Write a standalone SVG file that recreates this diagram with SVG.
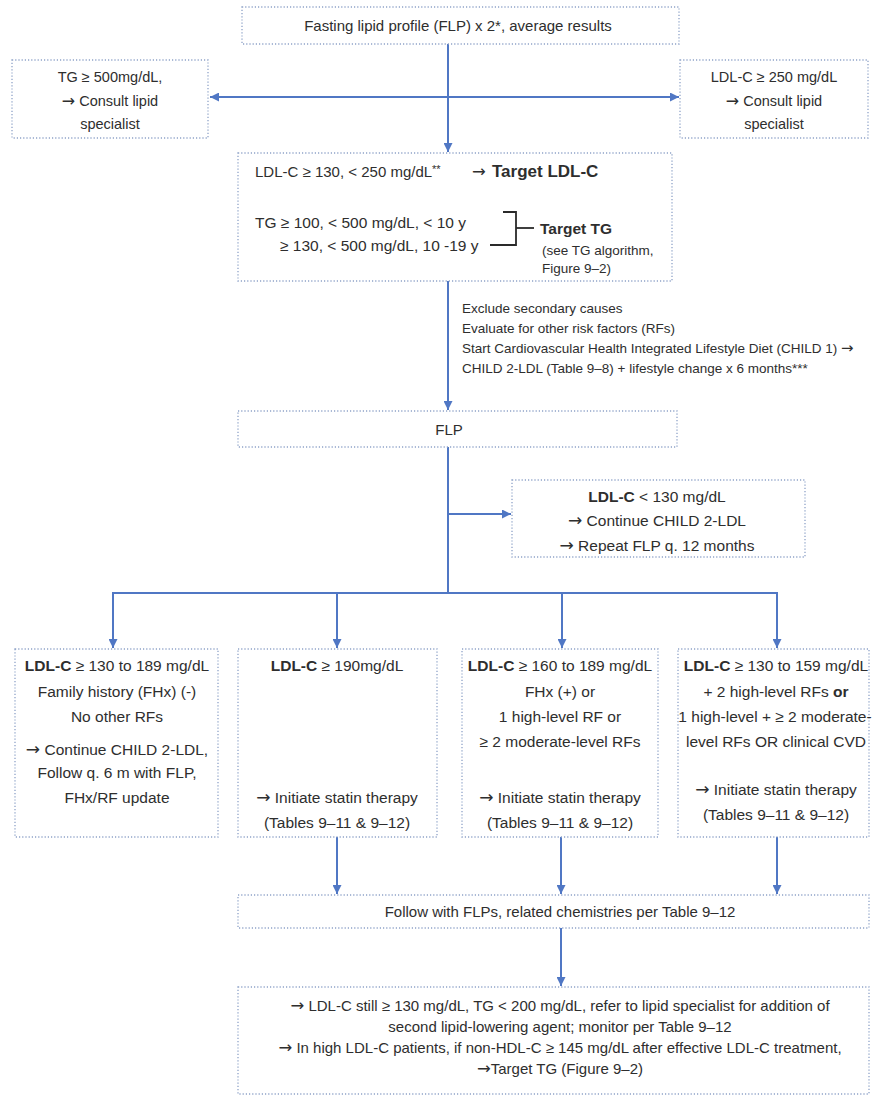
<svg xmlns="http://www.w3.org/2000/svg" width="873" height="1099" viewBox="0 0 873 1099">
<defs>
<marker id="ah" viewBox="0 0 10 10" refX="10" refY="5" markerWidth="9" markerHeight="9" markerUnits="userSpaceOnUse" orient="auto-start-reverse">
<path d="M0,0 L10,5 L0,10 z" fill="#5077c4"/>
</marker>
<style>
.box{fill:#ffffff;stroke:#8ea2c8;stroke-width:1.3;stroke-dasharray:1.2 2}
.ln{fill:none;stroke:#5077c4;stroke-width:2}
.br{fill:none;stroke:#2a2a2a;stroke-width:1.8}
text{font-family:"Liberation Sans",Arial,sans-serif;fill:#2e2e2e;font-size:15.5px}
.c{text-anchor:middle}
.b{font-weight:bold}
.ar{font-family:"DejaVu Sans",sans-serif;font-size:1.1em}
.s145{font-size:14.5px}
.s15{font-size:15px}
.s135{font-size:13.5px}
</style>
</defs>
<rect width="873" height="1099" fill="#ffffff"/>

<g id="connectors">
<line class="ln" x1="448" y1="44" x2="448" y2="152" marker-end="url(#ah)"/>
<line class="ln" x1="210" y1="97" x2="679" y2="97" marker-start="url(#ah)" marker-end="url(#ah)"/>
<line class="ln" x1="448" y1="281" x2="448" y2="410" marker-end="url(#ah)"/>
<line class="ln" x1="448" y1="447" x2="448" y2="593"/>
<line class="ln" x1="448" y1="514" x2="511" y2="514" marker-end="url(#ah)"/>
<polyline class="ln" points="113,648 113,593 777,593 777,648" marker-end="url(#ah)"/>
<line class="ln" x1="113" y1="600" x2="113" y2="648" marker-end="url(#ah)"/>
<line class="ln" x1="337" y1="593" x2="337" y2="648" marker-end="url(#ah)"/>
<line class="ln" x1="562" y1="593" x2="562" y2="648" marker-end="url(#ah)"/>
<line class="ln" x1="337" y1="837" x2="337" y2="894" marker-end="url(#ah)"/>
<line class="ln" x1="561" y1="837" x2="561" y2="894" marker-end="url(#ah)"/>
<line class="ln" x1="777" y1="837" x2="777" y2="894" marker-end="url(#ah)"/>
<line class="ln" x1="561" y1="928" x2="561" y2="986" marker-end="url(#ah)"/>
</g>

<g id="n-start">
<rect class="box" x="242" y="7" width="437" height="37"/>
<text class="c s15" x="458" y="31">Fasting lipid profile (FLP) x 2*, average results</text>
</g>

<g id="n-tg500">
<rect class="box" x="12" y="60" width="196" height="78"/>
<text class="c s145" x="110" y="82">TG ≥ 500mg/dL,</text>
<text class="c s145" x="110" y="106"><tspan class="ar">→</tspan> Consult lipid</text>
<text class="c s145" x="110" y="129">specialist</text>
</g>

<g id="n-ldl250">
<rect class="box" x="680" y="60" width="188" height="78"/>
<text class="c s145" x="774" y="82">LDL-C ≥ 250 mg/dL</text>
<text class="c s145" x="774" y="106"><tspan class="ar">→</tspan> Consult lipid</text>
<text class="c s145" x="774" y="129">specialist</text>
</g>

<g id="n-target">
<rect class="box" x="238" y="153" width="434" height="128"/>
<text class="s15" x="255" y="177">LDL-C ≥ 130, &lt; 250 mg/dL<tspan font-size="11" dy="-4">**</tspan><tspan dy="4" x="472" class="ar">→</tspan><tspan x="492" class="b" font-size="17">Target LDL-C</tspan></text>
<text font-size="16" x="255" y="228">TG ≥ 100, &lt; 500 mg/dL, &lt; 10 y</text>
<text font-size="16" x="280" y="251">≥ 130, &lt; 500 mg/dL, 10 -19 y</text>
<polyline class="br" points="503,212 516,212 516,245 490,245"/>
<line class="br" x1="516" y1="228" x2="534" y2="228"/>
<text class="b" x="540" y="234" font-size="18">Target TG</text>
<text class="s135" x="542" y="255">(see TG algorithm,</text>
<text class="s135" x="542" y="273">Figure 9–2)</text>
</g>

<g id="n-steps">
<text class="s135" x="462" y="313">Exclude secondary causes</text>
<text class="s135" x="462" y="333">Evaluate for other risk factors (RFs)</text>
<text class="s135" x="462" y="353">Start Cardiovascular Health Integrated Lifestyle Diet (CHILD 1) <tspan class="ar">→</tspan></text>
<text class="s135" x="462" y="373">CHILD 2-LDL (Table 9–8) + lifestyle change x 6 months***</text>
</g>

<g id="n-flp">
<rect class="box" x="238" y="411" width="439" height="36"/>
<text class="c s15" x="449" y="435">FLP</text>
</g>

<g id="n-ldl130">
<rect class="box" x="512" y="480" width="293" height="77"/>
<text class="c" x="657" y="502"><tspan class="b">LDL-C</tspan> &lt; 130 mg/dL</text>
<text class="c" x="657" y="526"><tspan class="ar">→</tspan> Continue CHILD 2-LDL</text>
<text class="c" x="657" y="551"><tspan class="ar">→</tspan> Repeat FLP q. 12 months</text>
</g>

<g id="n-b1">
<rect class="box" x="15" y="649" width="203" height="188"/>
<text class="c" x="117" y="671"><tspan class="b">LDL-C</tspan> ≥ 130 to 189 mg/dL</text>
<text class="c" x="117" y="697">Family history (FHx) (-)</text>
<text class="c" x="117" y="722">No other RFs</text>
<text class="c" x="117" y="755"><tspan class="ar">→</tspan> Continue CHILD 2-LDL,</text>
<text class="c" x="117" y="778">Follow q. 6 m with FLP,</text>
<text class="c" x="117" y="803">FHx/RF update</text>
</g>

<g id="n-b2">
<rect class="box" x="238" y="649" width="199" height="188"/>
<text class="c" x="337" y="671"><tspan class="b">LDL-C</tspan> ≥ 190mg/dL</text>
<text class="c" x="337" y="803"><tspan class="ar">→</tspan> Initiate statin therapy</text>
<text class="c" x="337" y="828">(Tables 9–11 &amp; 9–12)</text>
</g>

<g id="n-b3">
<rect class="box" x="462" y="649" width="196" height="188"/>
<text class="c" x="560" y="671"><tspan class="b">LDL-C</tspan> ≥ 160 to 189 mg/dL</text>
<text class="c" x="560" y="697">FHx (+) or</text>
<text class="c" x="560" y="722">1 high-level RF or</text>
<text class="c" x="560" y="747">≥ 2 moderate-level RFs</text>
<text class="c" x="560" y="803"><tspan class="ar">→</tspan> Initiate statin therapy</text>
<text class="c" x="560" y="828">(Tables 9–11 &amp; 9–12)</text>
</g>

<g id="n-b4">
<rect class="box" x="678" y="649" width="191" height="188"/>
<text class="c" x="776" y="671"><tspan class="b">LDL-C</tspan> ≥ 130 to 159 mg/dL</text>
<text class="c" x="776" y="697">+ 2 high-level RFs <tspan class="b">or</tspan></text>
<text class="c" x="775" y="722">1 high-level + ≥ 2 moderate-</text>
<text class="c" x="776" y="747">level RFs OR clinical CVD</text>
<text class="c" x="776" y="795"><tspan class="ar">→</tspan> Initiate statin therapy</text>
<text class="c" x="776" y="820">(Tables 9–11 &amp; 9–12)</text>
</g>

<g id="n-follow">
<rect class="box" x="238" y="895" width="631" height="33"/>
<text class="c s15" x="560" y="917">Follow with FLPs, related chemistries per Table 9–12</text>
</g>

<g id="n-final">
<rect class="box" x="238" y="987" width="631" height="107"/>
<text class="c s15" x="560" y="1011"><tspan class="ar">→</tspan> LDL-C still ≥ 130 mg/dL, TG &lt; 200 mg/dL, refer to lipid specialist for addition of</text>
<text class="c s15" x="560" y="1032">second lipid-lowering agent; monitor per Table 9–12</text>
<text class="c s15" x="560" y="1053"><tspan class="ar">→</tspan> In high LDL-C patients, if non-HDL-C ≥ 145 mg/dL after effective LDL-C treatment,</text>
<text class="c s15" x="560" y="1074"><tspan class="ar">→</tspan>Target TG (Figure 9–2)</text>
</g>
</svg>
